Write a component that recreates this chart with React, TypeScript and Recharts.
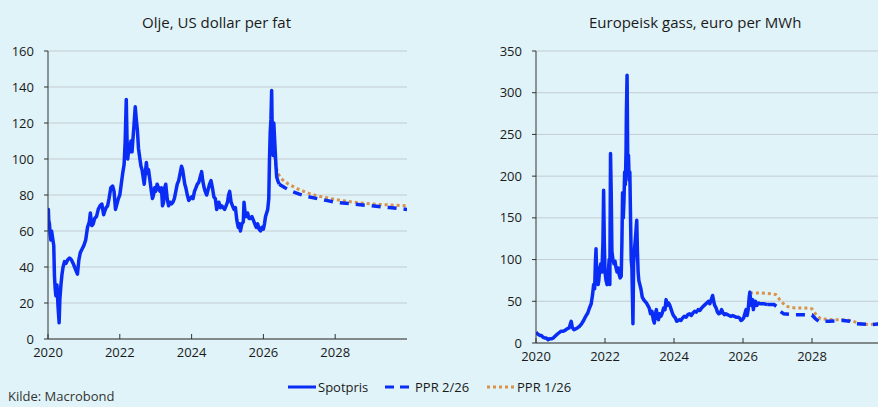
import React from 'react'
import { LineChart, Line, XAxis, YAxis, CartesianGrid } from 'recharts'

// [year, value]
const oilSpot: [number, number][] = [
  [2020.0, 68], [2020.01, 72], [2020.02, 66], [2020.04, 64], [2020.06, 58], [2020.08, 55], [2020.1, 60], [2020.13, 56],
  [2020.16, 52], [2020.18, 35], [2020.2, 28], [2020.22, 24], [2020.25, 30], [2020.28, 18], [2020.31, 9],
  [2020.33, 22], [2020.36, 30], [2020.39, 36], [2020.42, 40], [2020.46, 43], [2020.5, 42], [2020.55, 44],
  [2020.6, 45], [2020.65, 44], [2020.7, 42], [2020.74, 40], [2020.78, 38], [2020.82, 36], [2020.86, 44],
  [2020.9, 48], [2020.95, 50], [2021.0, 52], [2021.05, 55], [2021.1, 62], [2021.15, 65], [2021.18, 70],
  [2021.22, 63], [2021.26, 64], [2021.3, 67], [2021.35, 68], [2021.4, 72], [2021.45, 74], [2021.5, 75],
  [2021.55, 69], [2021.58, 71], [2021.62, 73], [2021.66, 74], [2021.7, 78], [2021.75, 84], [2021.8, 85],
  [2021.84, 82], [2021.88, 72], [2021.92, 75], [2021.96, 78], [2022.0, 80], [2022.04, 86], [2022.08, 92],
  [2022.12, 97], [2022.15, 110], [2022.18, 133], [2022.2, 112], [2022.22, 100], [2022.25, 106], [2022.28, 104],
  [2022.31, 110], [2022.34, 104], [2022.37, 112], [2022.4, 120], [2022.43, 129], [2022.46, 122], [2022.49, 116],
  [2022.52, 106], [2022.56, 100], [2022.59, 96], [2022.62, 94], [2022.65, 90], [2022.68, 86], [2022.71, 92],
  [2022.74, 98], [2022.77, 92], [2022.8, 94], [2022.84, 88], [2022.88, 82], [2022.91, 78], [2022.94, 80],
  [2022.97, 84], [2023.0, 82], [2023.04, 86], [2023.08, 84], [2023.12, 82], [2023.16, 84], [2023.19, 74],
  [2023.22, 76], [2023.25, 84], [2023.28, 86], [2023.32, 78], [2023.36, 74], [2023.4, 76], [2023.44, 75],
  [2023.48, 76], [2023.52, 78], [2023.56, 82], [2023.6, 86], [2023.64, 88], [2023.68, 92], [2023.72, 96],
  [2023.75, 94], [2023.78, 90], [2023.81, 86], [2023.84, 84], [2023.88, 80], [2023.92, 77], [2023.96, 78],
  [2024.0, 79], [2024.04, 78], [2024.08, 82], [2024.12, 84], [2024.16, 86], [2024.2, 87], [2024.24, 90],
  [2024.28, 93], [2024.31, 88], [2024.35, 84], [2024.38, 82], [2024.42, 80], [2024.46, 83], [2024.5, 86],
  [2024.54, 88], [2024.58, 84], [2024.62, 79], [2024.66, 78], [2024.7, 72], [2024.73, 74], [2024.76, 76],
  [2024.8, 73], [2024.84, 74], [2024.88, 73], [2024.92, 72], [2024.96, 74], [2025.0, 76], [2025.03, 80],
  [2025.06, 82], [2025.1, 76], [2025.14, 74], [2025.18, 72], [2025.22, 73], [2025.26, 66], [2025.3, 62],
  [2025.33, 64], [2025.36, 60], [2025.4, 64], [2025.44, 65], [2025.46, 76], [2025.49, 70], [2025.52, 68],
  [2025.56, 70], [2025.6, 67], [2025.64, 67], [2025.68, 68], [2025.72, 66], [2025.76, 64], [2025.8, 62],
  [2025.84, 64], [2025.88, 61], [2025.92, 60], [2025.96, 62], [2026.0, 61], [2026.03, 64], [2026.06, 68],
  [2026.09, 70], [2026.12, 72], [2026.15, 78], [2026.17, 100], [2026.19, 115], [2026.21, 122], [2026.23, 138],
  [2026.25, 110], [2026.27, 102], [2026.29, 120], [2026.31, 112], [2026.33, 104], [2026.35, 96], [2026.37, 90],
  [2026.4, 88], [2026.44, 86],
]

const oilPpr226: [number, number][] = [
  [2026.44, 86], [2026.6, 84], [2026.8, 82], [2027.0, 80.5], [2027.25, 79], [2027.5, 78], [2027.75, 77],
  [2028.0, 76], [2028.5, 75], [2029.0, 74], [2029.5, 73], [2030.0, 72],
]

const oilPpr126: [number, number][] = [
  [2026.2, 118], [2026.25, 111], [2026.3, 104], [2026.35, 96], [2026.4, 92], [2026.5, 89], [2026.7, 86],
  [2027.0, 83], [2027.25, 81], [2027.5, 79.5], [2028.0, 77.5], [2028.5, 76], [2029.0, 75], [2029.5, 74.5],
  [2030.0, 74],
]

const gasSpot: [number, number][] = [
  [2020.0, 13], [2020.04, 11], [2020.08, 10], [2020.12, 9], [2020.16, 9], [2020.2, 7], [2020.25, 6],
  [2020.3, 6], [2020.35, 4], [2020.4, 5], [2020.45, 5], [2020.5, 6], [2020.55, 8], [2020.6, 10],
  [2020.66, 12], [2020.72, 14], [2020.78, 14], [2020.84, 15], [2020.9, 17], [2020.96, 18], [2021.02, 26],
  [2021.05, 19], [2021.1, 16], [2021.15, 17], [2021.2, 18], [2021.26, 20], [2021.32, 23], [2021.38, 27],
  [2021.44, 32], [2021.5, 36], [2021.55, 42], [2021.6, 47], [2021.64, 58], [2021.67, 70], [2021.7, 65],
  [2021.72, 95], [2021.74, 113], [2021.76, 80], [2021.78, 90], [2021.8, 70], [2021.82, 75], [2021.85, 90],
  [2021.88, 95], [2021.91, 85], [2021.94, 120], [2021.96, 183], [2021.98, 120], [2022.0, 85], [2022.03, 75],
  [2022.06, 70], [2022.09, 80], [2022.12, 100], [2022.14, 70], [2022.16, 227], [2022.18, 180], [2022.2, 110],
  [2022.23, 100], [2022.26, 95], [2022.29, 98], [2022.32, 90], [2022.35, 85], [2022.38, 90], [2022.41, 82],
  [2022.44, 78], [2022.47, 80], [2022.49, 120], [2022.51, 180], [2022.53, 150], [2022.55, 170], [2022.57, 205],
  [2022.59, 190], [2022.61, 230], [2022.62, 275], [2022.64, 321], [2022.66, 210], [2022.68, 225], [2022.7, 195],
  [2022.72, 205], [2022.74, 150], [2022.76, 100], [2022.78, 90], [2022.81, 23], [2022.83, 95], [2022.86, 115],
  [2022.89, 130], [2022.92, 147], [2022.94, 110], [2022.96, 85], [2022.98, 75], [2023.01, 70], [2023.04, 65],
  [2023.08, 55], [2023.12, 52], [2023.16, 50], [2023.2, 48], [2023.24, 45], [2023.28, 42], [2023.32, 35],
  [2023.36, 38], [2023.4, 28], [2023.43, 24], [2023.46, 35], [2023.49, 40], [2023.52, 30], [2023.55, 28],
  [2023.58, 35], [2023.62, 32], [2023.66, 36], [2023.7, 42], [2023.74, 40], [2023.77, 52], [2023.8, 45],
  [2023.84, 48], [2023.88, 45], [2023.92, 40], [2023.96, 35], [2024.0, 32], [2024.04, 30], [2024.08, 26],
  [2024.12, 27], [2024.16, 28], [2024.2, 27], [2024.25, 30], [2024.3, 32], [2024.35, 31], [2024.4, 34],
  [2024.45, 35], [2024.5, 33], [2024.55, 36], [2024.6, 38], [2024.65, 37], [2024.7, 40], [2024.75, 39],
  [2024.8, 42], [2024.85, 44], [2024.9, 46], [2024.95, 48], [2025.0, 50], [2025.04, 47], [2025.08, 52],
  [2025.12, 57], [2025.15, 50], [2025.18, 45], [2025.22, 42], [2025.26, 37], [2025.3, 35], [2025.34, 36],
  [2025.38, 40], [2025.42, 36], [2025.46, 34], [2025.5, 35], [2025.55, 34], [2025.6, 33], [2025.65, 32],
  [2025.7, 33], [2025.75, 32], [2025.8, 31], [2025.85, 31], [2025.9, 30], [2025.94, 27], [2025.98, 28],
  [2026.02, 30], [2026.06, 36], [2026.09, 40], [2026.12, 33], [2026.15, 40], [2026.18, 55], [2026.2, 61],
  [2026.22, 50], [2026.25, 45], [2026.28, 52], [2026.3, 40], [2026.33, 48], [2026.36, 50], [2026.4, 45],
  [2026.45, 48], [2026.5, 47], [2026.6, 47], [2026.72, 46],
]

const gasPpr226: [number, number][] = [
  [2026.72, 46], [2026.9, 46], [2027.0, 43], [2027.08, 38], [2027.18, 35], [2027.5, 34], [2027.8, 34],
  [2028.0, 33.5], [2028.1, 29], [2028.2, 26], [2028.5, 26], [2028.9, 27], [2029.1, 26], [2029.3, 23],
  [2029.7, 22], [2030.0, 23],
]

const gasPpr126: [number, number][] = [
  [2026.2, 60], [2026.5, 60], [2026.8, 59], [2026.95, 58], [2027.1, 50], [2027.25, 44], [2027.5, 42],
  [2027.8, 42], [2028.0, 41], [2028.1, 35], [2028.25, 29], [2028.6, 28], [2029.0, 28], [2029.2, 26],
  [2029.4, 23], [2029.7, 22], [2030.0, 24],
]

const yearTicks = [2020, 2022, 2024, 2026, 2028]
const oilTicks = [0, 20, 40, 60, 80, 100, 120, 140, 160]
const gasTicks = [0, 50, 100, 150, 200, 250, 300, 350]

const BG = '#e0f3f8'
const BLUE = '#0a2df5'
const ORANGE = '#d9924a'
const FONT = '"Open Sans", sans-serif'
const TXT = '#1a1a1a'

const toRows = (arr: [number, number][]) => arr.map(([t, v]) => ({ t, v }))

const tick = { fontSize: 13, fill: TXT, fontFamily: FONT }

function Panel({
  left, width, height, margin, yMax, yTicks, spot, ppr2, ppr1,
}: {
  left: number; width: number; height: number
  margin: { top: number; right: number; left: number; bottom: number }
  yMax: number; yTicks: number[]
  spot: [number, number][]; ppr2: [number, number][]; ppr1: [number, number][]
}) {
  return (
    <div style={{ position: 'absolute', left, top: 0 }}>
      <LineChart width={width} height={height} margin={margin}>
        <CartesianGrid vertical={false} stroke="#c3cdd1" strokeWidth={1} />
        <XAxis
          type="number"
          dataKey="t"
          domain={[2020, 2030]}
          ticks={yearTicks}
          allowDataOverflow
          tick={tick}
          tickSize={-5}
          tickMargin={14}
          height={31}
          stroke="#333"
        />
        <YAxis
          type="number"
          domain={[0, yMax]}
          ticks={yTicks}
          interval={0}
          tick={tick}
          tickSize={4}
          tickMargin={10}
          width={40}
          stroke="#333"
        />
        <Line data={toRows(ppr1)} dataKey="v" stroke={ORANGE} strokeWidth={3} strokeDasharray="3 3" dot={false} isAnimationActive={false} />
        <Line data={toRows(ppr2)} dataKey="v" stroke={BLUE} strokeWidth={3.5} strokeDasharray="9 7" dot={false} isAnimationActive={false} />
        <Line data={toRows(spot)} dataKey="v" stroke={BLUE} strokeWidth={3.5} dot={false} isAnimationActive={false} strokeLinejoin="round" />
      </LineChart>
    </div>
  )
}

function LegendItem({ label, dash, color, x }: { label: string; dash?: string; color: string; x: number }) {
  return (
    <div style={{ position: 'absolute', left: x, top: 378, display: 'flex', alignItems: 'center' }}>
      <svg width={28} height={8}>
        <line x1={0} y1={4} x2={28} y2={4} stroke={color} strokeWidth={3} strokeDasharray={dash} />
      </svg>
      <span style={{ fontFamily: FONT, fontSize: 13, color: TXT, marginLeft: 2 }}>{label}</span>
    </div>
  )
}

export default function App() {
  return (
    <div style={{ position: 'fixed', left: 0, top: 0, width: 878, height: 407, background: BG, overflow: 'hidden' }}>
      <div style={{ position: 'absolute', left: 142, top: 12, fontFamily: FONT, fontSize: 15, color: TXT, whiteSpace: 'nowrap' }}>
        Olje, US dollar per fat
      </div>
      <div style={{ position: 'absolute', left: 589, top: 12, fontFamily: FONT, fontSize: 15, color: TXT, whiteSpace: 'nowrap' }}>
        Europeisk gass, euro per MWh
      </div>
      <Panel
        left={0} width={440} height={370}
        margin={{ top: 51, right: 33, left: 8, bottom: 0 }}
        yMax={160} yTicks={oilTicks}
        spot={oilSpot} ppr2={oilPpr226} ppr1={oilPpr126}
      />
      <Panel
        left={440} width={441} height={374}
        margin={{ top: 51, right: 0, left: 56, bottom: 0 }}
        yMax={350} yTicks={gasTicks}
        spot={gasSpot} ppr2={gasPpr226} ppr1={gasPpr126}
      />
      <LegendItem label="Spotpris" color={BLUE} x={288} />
      <LegendItem label="PPR 2/26" color={BLUE} dash="9 6" x={385} />
      <LegendItem label="PPR 1/26" color={ORANGE} dash="3 3" x={487} />
      <div style={{ position: 'absolute', left: 8, top: 388, lineHeight: '17px', fontFamily: FONT, fontSize: 13, color: '#333', whiteSpace: 'nowrap' }}>
        Kilde: Macrobond
      </div>
    </div>
  )
}
